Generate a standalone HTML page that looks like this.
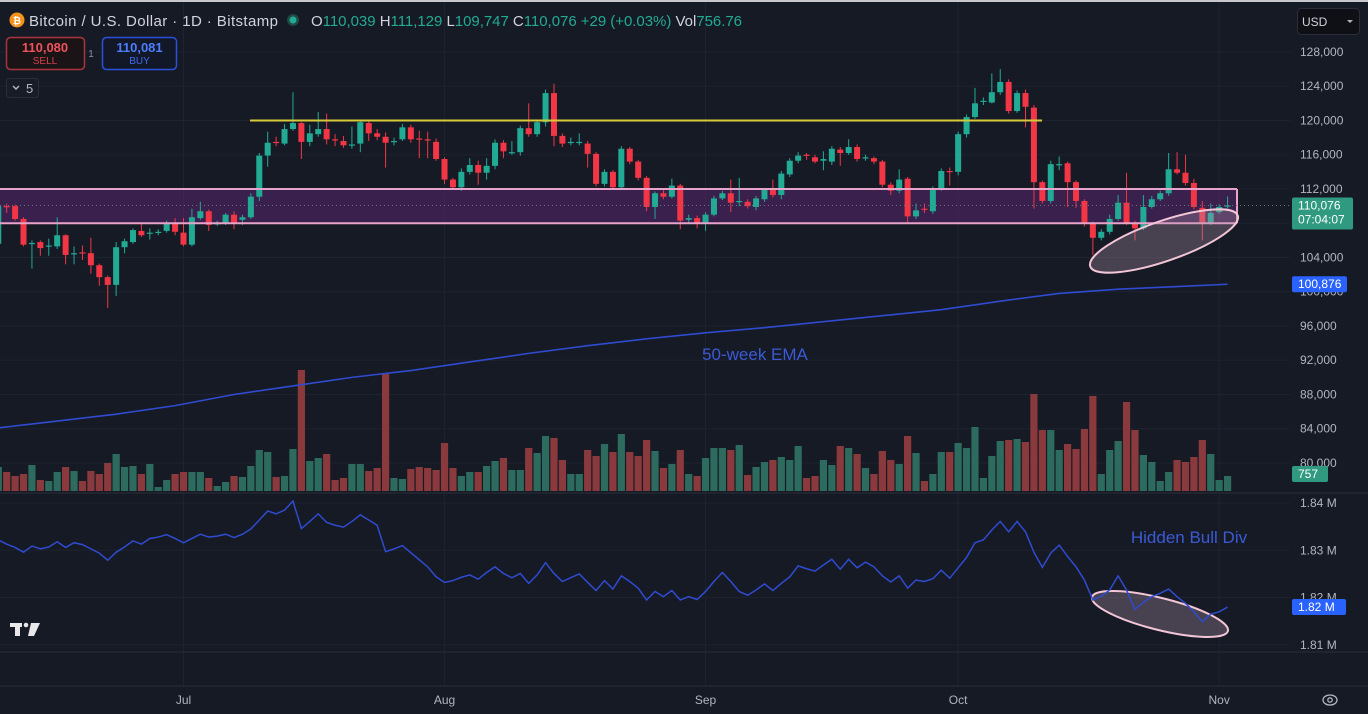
<!DOCTYPE html>
<html><head><meta charset="utf-8"><title>BTCUSD chart</title>
<style>
html,body{margin:0;padding:0;background:#161a25;}
svg{display:block;font-family:"Liberation Sans",sans-serif;}
</style></head>
<body>
<svg id="chart" width="1368" height="714" viewBox="0 0 1368 714" xmlns="http://www.w3.org/2000/svg">
<rect x="0" y="0" width="1368" height="714" fill="#161a25"/>
<g id="grid"></g>
<g id="band-fill-g"></g>
<g id="vol"></g>
<g id="ema"></g>
<g id="candles"></g>
<g id="overlays"></g>
<g id="obv"></g>
<g id="axis"></g>

<!-- header -->
<circle cx="17" cy="20" r="7.5" fill="#f7931a"/>
<text x="17" y="24" font-size="10" fill="#fff" text-anchor="middle" font-weight="bold">₿</text>
<text x="29" y="26" font-size="15" fill="#d1d4dc" textLength="249">Bitcoin / U.S. Dollar · 1D · Bitstamp</text>
<circle cx="293" cy="20" r="6" fill="#1f4a44"/>
<circle cx="293" cy="20" r="3.5" fill="#22ab94"/>
<text x="311" y="26" font-size="15" fill="#d1d4dc" textLength="431">O<tspan fill="#22ab94">110,039</tspan> H<tspan fill="#22ab94">111,129</tspan> L<tspan fill="#22ab94">109,747</tspan> C<tspan fill="#22ab94">110,076</tspan> <tspan fill="#22ab94">+29 (+0.03%)</tspan> Vol<tspan fill="#22ab94">756.76</tspan></text>

<rect x="6.5" y="37.5" width="78" height="32" rx="4" fill="#1a1417" stroke="#a8353d" stroke-width="1.5"/>
<text x="45" y="52" font-size="13" fill="#f0525c" text-anchor="middle" font-weight="bold">110,080</text>
<text x="45" y="64" font-size="10" fill="#d8404a" text-anchor="middle">SELL</text>
<text x="91" y="57" font-size="10" fill="#8a8f9c" text-anchor="middle">1</text>
<rect x="102.5" y="37.5" width="74" height="32" rx="4" fill="#131828" stroke="#2b50d8" stroke-width="1.5"/>
<text x="139.5" y="52" font-size="13" fill="#4d7dff" text-anchor="middle" font-weight="bold">110,081</text>
<text x="139.5" y="64" font-size="10" fill="#3d6af0" text-anchor="middle">BUY</text>
<rect x="6.5" y="78.5" width="32" height="19" rx="3" fill="#181c27" stroke="#2a2e39"/>
<path d="M13 86 L16 89 L19 86" fill="none" stroke="#b2b5be" stroke-width="1.5"/>
<text x="26" y="93" font-size="13" fill="#b2b5be">5</text>

<rect x="1297.5" y="8.5" width="62" height="26" rx="4" fill="#0e1016" stroke="#2a2e39"/>
<text x="1302" y="26" font-size="12" fill="#d1d4dc">USD</text>
<path d="M1347 20 L1353 20 L1350 23 Z" fill="#b2b5be"/>

<text x="755" y="360" font-size="17" fill="#3b5ad6" text-anchor="middle">50-week EMA</text>
<text x="1189" y="543" font-size="17" fill="#3b5ad6" text-anchor="middle">Hidden Bull Div</text>

<g fill="#e8e8ea">
<rect x="10" y="623" width="12" height="4"/><rect x="15" y="623" width="5" height="13"/>
<circle cx="26" cy="625" r="2.3"/><polygon points="31,623 40,623 34,636 28,636"/>
</g>
<g id="timeaxis"></g>
<g>
<ellipse cx="1330" cy="700" rx="7" ry="5" fill="none" stroke="#b2b5be" stroke-width="1.3"/>
<circle cx="1330" cy="700" r="2.2" fill="none" stroke="#b2b5be" stroke-width="1.3"/>
</g>
<rect x="0" y="0" width="1368" height="2" fill="#c8c8cc"/>
</svg>

<script>
// ---- data (index 0 = Jun 9, last = Nov 2) ----
const opens = [
105600,110000,110000,108500,105600,105800,105300,105300,106600,104400,104600,104500,103100,101700,100800,105200,105800,107100,106800,106900,107100,108000,
106900,105500,108600,109400,107900,108000,109000,108400,108700,111100,
115900,117500,117300,119000,119700,117500,118400,119000,117800,117600,
117100,117300,119700,118500,118100,117500,117800,119200,117900,117800,
117500,115500,113100,112200,114000,114800,113900,114700,117400,116300,
116300,119100,118400,119800,123200,118200,117400,117400,117300,116100,
112600,114000,112200,116700,115200,113300,109900,111500,111100,112400,
108400,108600,108000,109000,110900,111500,110500,110500,109900,110800,
111900,111300,113700,115300,116000,115700,115300,115200,116600,116200,
116900,115600,115600,115200,112500,111800,113200,108800,109700,109400,
112000,114100,114000,118400,120400,122200,122100,123300,124500,121100,
123200,121500,112800,110600,114900,115000,112800,110600,108000,106300,
107000,108500,110400,108000,107400,109900,110800,111500,114300,113900,
112700,109800,108000,109300,110039];
const closes = [
110000,109900,108500,105500,105700,105100,105400,106600,104300,104500,104500,103100,101700,100800,105200,105900,107200,106600,106900,107000,108000,107000,
105500,108700,109400,107800,108000,109000,108000,108700,111100,115900,
117400,117400,119000,119700,117500,118500,119000,117800,117700,117100,
117200,119800,118500,118100,117400,117600,119200,117800,117800,117700,
115500,113100,112200,114000,114800,113900,114700,117400,116400,116300,
119100,118400,119800,123200,118200,117300,117500,117500,116100,112600,
114000,112200,116700,115200,113300,109900,111500,111100,112400,108300,
108600,108000,109000,110900,111500,110400,110600,110000,110900,111900,
111300,113800,115300,115900,115900,115200,115500,116700,116200,116900,
115500,115700,115200,112500,111800,113100,108800,109500,109600,112000,
114100,114000,118400,120400,122000,122300,123300,124500,121100,123200,
121600,112800,110600,114900,114900,112800,110600,108000,106300,107000,
108500,110400,108000,107400,109900,110800,111500,114300,113900,112700,
109900,108000,109200,109900,110076];
const highs = [
110300,110300,110200,108700,106000,106000,106200,108700,106700,105300,105400,106300,103300,101900,105800,106200,107400,108100,107400,107300,108300,108600,
108600,109700,110500,109600,108300,109200,109400,109000,111500,116200,
118700,118100,119600,123300,119800,119500,121000,120800,118400,118200,
119300,120100,119900,119000,118600,118000,119600,119500,118800,118700,
117900,115700,113300,114400,115600,115300,115600,117800,117700,117600,
119400,122000,120100,123600,124300,118500,118000,118500,117600,116300,
114300,114200,117000,116900,115400,113500,111700,111900,113200,112600,
109000,108900,109300,111200,111800,113100,113300,110800,111200,112100,
113100,114100,115600,116300,116200,116000,116400,117000,116900,117800,
117200,116000,115800,115400,112800,114300,113400,110300,110300,112300,
114400,114500,118700,120700,123800,122700,125500,126000,124800,123500,
123600,121800,113000,115300,115800,115200,113000,110800,108200,107300,
109000,111300,113900,108300,111300,111200,111800,116200,116300,116000,
113200,110600,110300,110200,111129];
const lows = [
105000,109200,108300,105300,102700,104200,104200,105000,103200,103200,103700,102100,100700,98100,99500,104500,105600,106400,106100,106600,106900,106600,
105300,105300,108400,107100,107700,107800,107300,107800,108500,110600,
114600,117000,117100,118800,115500,117000,118100,117200,117000,116800,
116700,116300,117600,117700,114500,117100,117600,117400,115600,115600,
115300,112600,111900,111800,113700,112500,113100,114300,115600,116000,
115900,118100,118100,119300,117000,116900,117100,117100,114500,112300,
112300,111900,112000,114900,113000,109400,108500,110800,110900,107300,
108000,107400,107100,108800,110700,109300,110000,109700,109500,110500,
111000,110800,113400,115000,115400,115000,114200,114800,114700,116000,
115200,115300,114900,112200,111300,111500,108100,108500,109200,109100,
111800,112400,113600,118000,120200,121800,122000,123000,120800,120900,
119200,109700,110300,110300,114200,109900,109800,107600,104300,106000,
106700,108300,107800,106000,107200,109700,110600,111200,113700,112400,
109600,106000,107800,109100,109747];
// volume in units of 50 BTC
const volumes = [
24,19,15,17,26,11,10,19,24,20,10,20,17,28,37,24,25,17,27,4,11,17,
19,19,19,13,5,9,15,14,25,41,
39,14,15,42,121,30,33,37,11,13,
27,27,20,23,117,13,12,22,24,23,
21,48,23,15,19,19,25,30,33,21,
21,43,38,55,53,31,17,17,41,35,
47,39,57,39,35,51,40,23,27,41,
17,15,33,43,43,41,46,16,24,29,
31,34,31,45,13,15,31,26,45,43,
37,23,17,40,31,27,55,38,10,17,
39,39,48,43,64,13,35,50,51,52,
49,97,61,61,41,47,42,62,95,17,
41,50,89,61,36,29,10,19,31,29,
34,51,37,11,15];
// indicator (millions)
const obvValues = [
1.8322,1.8313,1.8306,1.8296,1.8309,1.8303,1.8307,1.8318,1.8306,1.8316,1.8312,1.8303,1.8294,1.8279,1.8296,1.8307,1.8320,1.8313,1.8325,1.8328,1.8333,1.8325,
1.8316,1.8325,1.8334,1.8328,1.8330,1.8334,1.8327,1.8334,1.8345,1.8364,
1.8383,1.8377,1.8385,1.8404,1.8346,1.8361,1.8377,1.8359,1.8353,1.8349,
1.8361,1.8375,1.8364,1.8353,1.8297,1.8303,1.8310,1.8295,1.8280,1.8265,
1.8244,1.8232,1.8236,1.8243,1.8248,1.8239,1.8253,1.8265,1.8251,1.8242,
1.8251,1.8230,1.8248,1.8274,1.8251,1.8234,1.8242,1.8250,1.8232,1.8215,
1.8236,1.8218,1.8246,1.8234,1.8220,1.8195,1.8213,1.8202,1.8215,1.8195,
1.8202,1.8196,1.8213,1.8234,1.8253,1.8234,1.8213,1.8205,1.8216,1.8229,
1.8215,1.8230,1.8244,1.8267,1.8261,1.8256,1.8269,1.8281,1.8260,1.8281,
1.8263,1.8275,1.8265,1.8246,1.8233,1.8246,1.8220,1.8237,1.8234,1.8240,
1.8258,1.8241,1.8263,1.8285,1.8316,1.8322,1.8343,1.8361,1.8339,1.8361,
1.8339,1.8296,1.8264,1.8294,1.8311,1.8287,1.8265,1.8237,1.8195,1.8203,
1.8216,1.8246,1.8216,1.8175,1.8190,1.8202,1.8209,1.8218,1.8202,1.8188,
1.8170,1.8149,1.8165,1.8170,1.8180];
const emaIndex = [0,7,14,21,28,35,42,49,56,63,70,77,84,91,98,105,112,119,126,133,140,146];
const emaValues = [84100,84900,85700,86700,88000,89000,90000,90800,91800,92800,93700,94500,95200,95800,96500,97200,97900,98900,99800,100300,100600,100876];
const priceTicks = [128000,124000,120000,116000,112000,108000,104000,100000,96000,92000,88000,84000,80000];
const obvTicks = [1.84,1.83,1.82,1.81];
const monthLabels = ['Jul','Aug','Sep','Oct','Nov'];
const monthIndex = [22,53,84,114,145];
const zoneTop = 112000, zoneBottom = 108000, resistance = 120000;
const lastPrice = 110076, lastEma = 100876, lastVolume = 757, lastObv = 1.82;

// ---- axes ----
const NS='http://www.w3.org/2000/svg';
function xAt(i){return 183.5+8.42*(i-22);}
function yP(p){return 463-(p-80000)*0.008563;}
function yV(v){return 491-v;}
function yO(v){return 503+(1.84-v)*4730;}
function mk(tag,attrs,parent){const e=document.createElementNS(NS,tag);for(const k in attrs)e.setAttribute(k,attrs[k]);parent.appendChild(e);return e;}
const fmt=n=>n.toLocaleString('en-US');
const G=id=>document.getElementById(id);
const UP='#22ab94', DN='#f23645';

// grid
const grid=G('grid');
priceTicks.forEach(t=>{const l=mk('line',{x1:0,x2:1290,y1:yP(t),y2:yP(t),stroke:'#1f2330','stroke-width':1},grid);

});
obvTicks.forEach(t=>{const l=mk('line',{x1:0,x2:1290,y1:yO(t),y2:yO(t),stroke:'#1f2330','stroke-width':1},grid);

});
monthIndex.forEach(i=>{const l=mk('line',{x1:xAt(i),x2:xAt(i),y1:0,y2:686,stroke:'#1f2330','stroke-width':1},grid);

});
[493,652,686].forEach(y=>{const l=mk('line',{x1:0,x2:1368,y1:y,y2:y,stroke:'#2a2e39','stroke-width':1},grid);

});

// zone fill
const bx2=1237;
const bf=mk('rect',{x:0,y:yP(zoneTop),width:bx2,height:yP(zoneBottom)-yP(zoneTop),fill:'rgba(110,40,130,0.42)'},G('band-fill-g'));



// volume
const vg=G('vol');
volumes.forEach((v,i)=>{const up=closes[i]>=opens[i];
const r=mk('rect',{x:xAt(i)-3.6,y:yV(v),width:7.2,height:v,fill:up?'#2d6b5e':'#8a3a3d'},vg);

});

// EMA
const ep=emaIndex.map((i,k)=>xAt(i)+','+yP(emaValues[k])).join(' ');
const eline=mk('polyline',{points:ep,fill:'none',stroke:'#2f4bd0','stroke-width':1.6},G('ema'));



// candles
const cg=G('candles');
closes.forEach((c,i)=>{const o=opens[i],up=c>=o,col=up?UP:DN,x=xAt(i);
const w=mk('line',{x1:x,x2:x,y1:yP(highs[i]),y2:yP(lows[i]),stroke:col,'stroke-width':1},cg);


const top=yP(Math.max(o,c)),h=Math.max(1.2,Math.abs(yP(o)-yP(c)));
const b=mk('rect',{x:x-3,y:top,width:6,height:h,fill:col},cg);

});

// overlays
const ov=G('overlays');
[zoneTop,zoneBottom].forEach(p=>{const l=mk('line',{x1:0,x2:bx2,y1:yP(p),y2:yP(p),stroke:'#e7a3c9','stroke-width':2},ov);

});
const vb=mk('line',{x1:bx2,x2:bx2,y1:yP(zoneTop),y2:yP(zoneBottom),stroke:'#e7a3c9','stroke-width':2},ov);


const yl=mk('line',{x1:250,x2:1042,y1:yP(resistance),y2:yP(resistance),stroke:'#d6c93a','stroke-width':2},ov);


const pl=mk('line',{x1:0,x2:1292,y1:yP(lastPrice),y2:yP(lastPrice),stroke:'#6c7080','stroke-width':1,'stroke-dasharray':'1 3'},ov);


const e1=mk('ellipse',{cx:1164,cy:241,rx:78,ry:20,transform:'rotate(-19 1164 241)',fill:'rgba(175,145,170,0.33)',stroke:'#f2c6d6','stroke-width':2},ov);



// indicator
const og=G('obv');
const e2=mk('ellipse',{cx:1160,cy:614,rx:70,ry:16,transform:'rotate(14 1160 614)',fill:'rgba(175,145,170,0.33)',stroke:'#f2c6d6','stroke-width':2},og);


const opts=obvValues.map((v,i)=>xAt(i)+','+yO(v)).join(' ');
const oline=mk('polyline',{points:opts,fill:'none',stroke:'#2f4bd0','stroke-width':1.5},og);



// price axis
const ax=G('axis');
priceTicks.forEach(t=>{const tx=mk('text',{x:1300,y:yP(t)+4,'font-size':12,fill:'#b2b5be'},ax);tx.textContent=fmt(t);

});
obvTicks.forEach(t=>{const tx=mk('text',{x:1300,y:yO(t)+4,'font-size':12,fill:'#b2b5be'},ax);tx.textContent=t.toFixed(2)+' M';

});
// badges
function badge(y,h,w,col,lines,name){const g=mk('g',{},ax);


mk('rect',{x:1292,y:y,width:w,height:h,rx:2,fill:col},g);
lines.forEach((s,k)=>{const t=mk('text',{x:1298,y:y+12+k*14,'font-size':12,fill:'#ffffff'},g);t.textContent=s;});}
badge(yP(lastPrice)-8,32,61,'#2f9a80',[fmt(lastPrice),'07:04:07'],'last-price-badge');
badge(yP(lastEma)-8,16,55,'#2962ff',[fmt(lastEma)],'ema-value-badge');
badge(yV(15)-10,16,36,'#2f9a80',[String(lastVolume)],'volume-value-badge');
badge(yO(1.8180)-8,16,54,'#2962ff',[lastObv.toFixed(2)+' M'],'indicator-value-badge');

// time axis
const ta=G('timeaxis');
monthLabels.forEach((m,k)=>{const t=mk('text',{x:xAt(monthIndex[k]),y:704,'font-size':12,fill:'#b2b5be','text-anchor':'middle'},ta);t.textContent=m;

});
</script>
</body></html>
